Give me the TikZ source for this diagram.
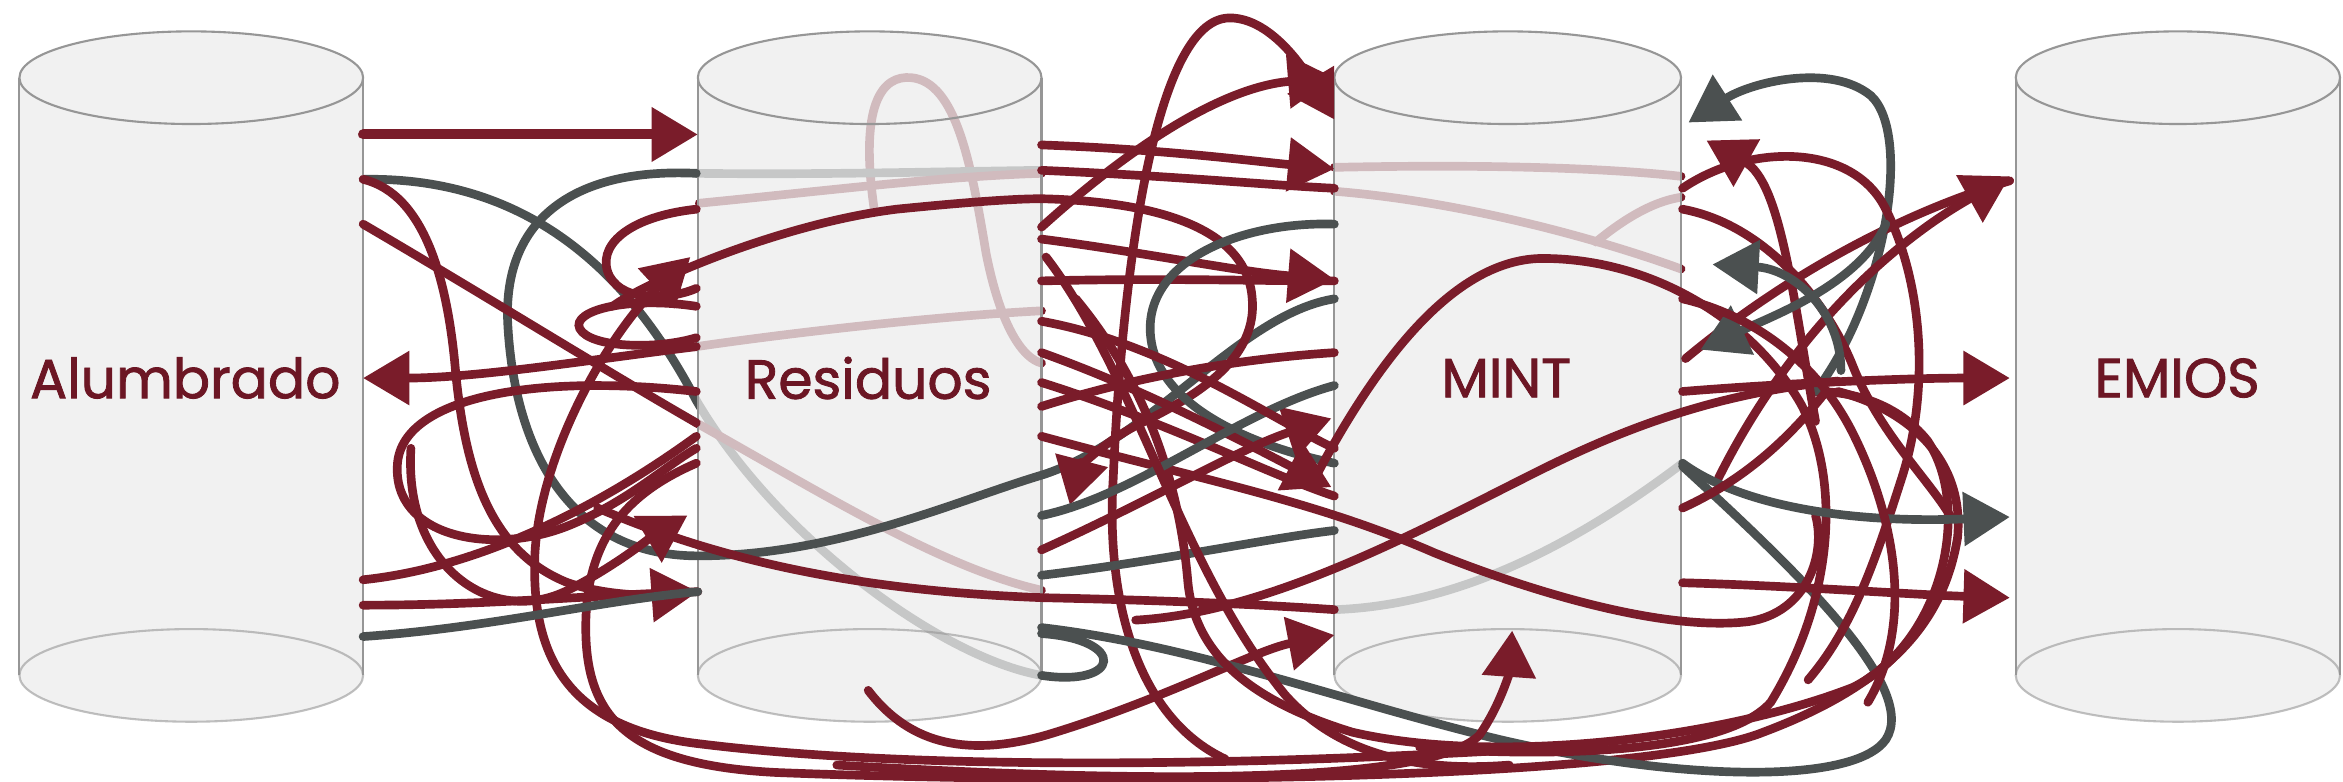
\documentclass[tikz,border=0pt]{standalone}
\usepackage{fontspec}
\usetikzlibrary{arrows.meta}
\newfontfamily\lblfont{Poppins}[FakeBold=1.5]
\definecolor{mar}{RGB}{122,28,42}
\definecolor{gry}{RGB}{75,80,80}
\definecolor{cylfillc}{RGB}{237,237,237}
\definecolor{cyledge}{RGB}{150,150,150}
\definecolor{lblc}{RGB}{108,22,36}
\pgfdeclarelayer{bg}
\pgfdeclarelayer{cyl}
\pgfdeclarelayer{fg}
\pgfsetlayers{bg,cyl,main,fg}
\newcommand{\cylshape}[2]{%
  \pgfmathsetmacro{\cx}{(#1+#2)/2}%
  \pgfmathsetmacro{\rx}{(#2-#1)/2}%
  \fill[cylfillc,fill opacity=0.76] (#1,52) -- (#1,452) arc[start angle=180,end angle=0,x radius=\rx,y radius=31] -- (#2,52) arc[start angle=0,end angle=-180,x radius=\rx,y radius=31] -- cycle;
  \draw[cylline] (#1,52) -- (#1,452);
  \draw[cylline] (#2,52) -- (#2,452);
  \draw[cylline] (\cx,52) ellipse[x radius=\rx,y radius=31];
  \draw[cylline,draw opacity=0.6] (\cx,452) ellipse[x radius=\rx,y radius=31];
}
\tikzset{
  mr/.style={draw=mar,line width=3.3pt,line cap=round},
  gr/.style={draw=gry,line width=3.3pt,line cap=round},
  arr/.style={-{Triangle[length=0.62cm,width=0.7cm]}},
  cylline/.style={draw=cyledge,line width=0.8pt},
  lbl/.style={text=lblc,font=\lblfont\fontsize{21}{25}\selectfont,inner sep=0pt}
}
\begin{document}
\begin{tikzpicture}[x=0.02cm,y=-0.02cm]
\useasboundingbox (0,0) rectangle (1568,523);
% labels
\begin{pgfonlayer}{fg}
\node[lbl] (alu) at (124,253) {Alumbrado};
\node[lbl] (res) at (581,253) {Residuos};
\node[lbl] (mint) at (1008,253) {MINT};
\node[lbl] (emi) at (1457,253) {EMIOS};
\end{pgfonlayer}
% back curves
\begin{pgfonlayer}{bg}
\fill[white] (0,0) rectangle (1568,523);
\draw[gr] (243,120) .. controls (360,118) and (425,190) .. (466,268) .. controls (520,360) and (630,440) .. (697,452);
\draw[mr] (585,140) .. controls (575,70) and (590,50) .. (610,52) .. controls (640,55) and (650,110) .. (660,170) .. controls (670,220) and (685,240) .. (697,243);
\draw[gr] (466,116) .. controls (550,117) and (620,115) .. (697,114);
\draw[mr] (468,136) .. controls (550,128) and (630,118) .. (697,116);
\draw[mr] (893,112) .. controls (990,110) and (1070,112) .. (1125,118);
\draw[mr] (893,128) .. controls (980,135) and (1070,160) .. (1125,180);
\draw[mr] (1068,162) .. controls (1085,148) and (1105,135) .. (1125,132);
\draw[gr] (1126,310) .. controls (1060,360) and (980,405) .. (893,408);
\draw[mr] (466,283) .. controls (550,330) and (630,380) .. (697,395);
\draw[mr] (697,208) .. controls (620,212) and (520,224) .. (466,232);
\end{pgfonlayer}
% cylinders
\begin{pgfonlayer}{cyl}
\cylshape{13}{243}
\cylshape{467}{697}
\cylshape{893}{1125}
\cylshape{1349}{1566}
\end{pgfonlayer}
% front curves: gap 1
\draw[mr,arr,line width=3.8pt] (243,90) -- (467,90);
\draw[gr] (466,116) .. controls (380,112) and (335,150) .. (340,220) .. controls (345,300) and (380,372) .. (467,372) .. controls (560,372) and (640,335) .. (697,318) .. controls (770,295) and (830,210) .. (893,200);
\draw[mr,arr] (243,120) .. controls (285,130) and (300,190) .. (305,250) .. controls (312,320) and (330,370) .. (380,390) .. controls (410,400) and (440,398) .. (467,396);
\draw[mr] (243,150) .. controls (320,195) and (400,245) .. (466,283);
\draw[mr,arr] (466,232) .. controls (400,240) and (320,253) .. (243,253);
\draw[mr,arr] (1010,502) .. controls (800,514) and (600,514) .. (470,498) .. controls (380,488) and (355,440) .. (358,370) .. controls (362,300) and (410,220) .. (462,172);
\draw[mr] (466,310) .. controls (420,330) and (392,360) .. (392,420) .. controls (392,480) and (420,512) .. (520,517) .. controls (750,526) and (1100,522) .. (1180,490) .. controls (1260,460) and (1300,420) .. (1310,360) .. controls (1315,310) and (1280,275) .. (1230,262);
\draw[mr] (466,262) .. controls (360,250) and (270,265) .. (266,310) .. controls (262,360) and (330,372) .. (380,352) .. controls (420,336) and (445,312) .. (466,300);
\draw[mr] (243,388) .. controls (320,380) and (400,340) .. (466,292);
\draw[mr] (243,405) .. controls (330,405) and (400,398) .. (467,396);
\draw[mr,arr] (275,300) .. controls (270,380) and (330,420) .. (380,395) .. controls (410,380) and (435,360) .. (460,345);
\draw[gr] (243,426) .. controls (330,420) and (400,402) .. (467,396);
\draw[mr] (466,205) .. controls (420,198) and (382,208) .. (388,220) .. controls (395,233) and (440,234) .. (466,226);
\draw[mr] (466,140) .. controls (420,145) and (398,165) .. (408,185) .. controls (418,203) and (450,200) .. (466,193);
% across residuos and gap 2
\draw[mr,arr] (410,205) .. controls (430,190) and (520,150) .. (600,140) .. controls (650,135) and (680,133) .. (697,133) .. controls (780,135) and (835,155) .. (838,200) .. controls (842,245) and (790,270) .. (760,285) .. controls (735,298) and (722,315) .. (716,338);
\draw[mr] (400,340) .. controls (470,370) and (560,395) .. (698,400) .. controls (790,402) and (850,405) .. (893,408);
\draw[mr,arr] (820,508) .. controls (760,480) and (740,400) .. (745,320) .. controls (750,200) and (770,12) .. (823,12) .. controls (852,12) and (875,50) .. (893,80);
\draw[mr,arr] (697,152) .. controls (760,95) and (820,58) .. (893,52);
\draw[mr,arr] (697,97) .. controls (780,100) and (840,108) .. (893,113);
\draw[mr] (697,114) .. controls (790,118) and (850,124) .. (893,126);
\draw[mr,arr] (697,160) .. controls (760,168) and (830,182) .. (893,187);
\draw[mr] (697,188) .. controls (780,186) and (840,188) .. (893,188);
\draw[gr] (893,150) .. controls (830,148) and (765,175) .. (770,225) .. controls (775,275) and (845,300) .. (893,310);
\draw[mr,arr] (697,368) .. controls (770,335) and (830,300) .. (891,280);
\draw[mr,arr] (697,236) .. controls (770,262) and (840,300) .. (891,326);
\draw[mr] (697,256) .. controls (780,282) and (850,318) .. (893,332);
\draw[mr,arr] (581,462) .. controls (610,500) and (650,506) .. (700,492) .. controls (780,468) and (840,435) .. (893,425);
\draw[gr] (697,452) .. controls (750,460) and (755,428) .. (697,424);
\draw[gr] (697,420) .. controls (800,432) and (900,470) .. (1004,495) .. controls (1120,522) and (1240,526) .. (1262,495) .. controls (1285,460) and (1200,380) .. (1126,312);
\draw[gr] (697,385) .. controls (780,375) and (850,360) .. (893,355);
\draw[mr] (720,200) .. controls (770,260) and (790,330) .. (795,390) .. controls (800,440) and (840,470) .. (905,490) .. controls (1000,512) and (1150,495) .. (1240,460) .. controls (1300,430) and (1320,340) .. (1290,295) .. controls (1270,270) and (1240,262) .. (1215,262);
\draw[mr] (697,292) .. controls (800,320) and (880,335) .. (960,370) .. controls (1040,402) and (1120,422) .. (1170,416) .. controls (1210,410) and (1222,370) .. (1215,345);
\draw[mr] (760,415) .. controls (850,410) and (950,355) .. (1030,315) .. controls (1100,280) and (1160,262) .. (1230,255);
\draw[mr] (880,320) .. controls (925,235) and (975,175) .. (1030,173) .. controls (1100,172) and (1170,210) .. (1205,270) .. controls (1232,320) and (1228,400) .. (1185,470) .. controls (1150,510) and (1000,505) .. (950,500);
\draw[mr,arr] (560,512) .. controls (800,526) and (960,522) .. (990,492) .. controls (1004,472) and (1010,450) .. (1012,422);
\draw[mr] (697,272) .. controls (760,252) and (830,240) .. (893,236);
\draw[gr] (697,345) .. controls (760,332) and (830,275) .. (893,258);
\draw[mr] (697,215) .. controls (780,230) and (850,280) .. (893,300);
\draw[mr] (700,172) .. controls (760,250) and (790,380) .. (860,465) .. controls (900,510) and (960,516) .. (1010,512);
% gap 3
\draw[gr,arr] (1215,262) .. controls (1262,200) and (1280,90) .. (1252,64) .. controls (1225,42) and (1172,55) .. (1130,82);
\draw[mr,arr] (1215,282) .. controls (1200,200) and (1192,122) .. (1142,94);
\draw[mr] (1126,126) .. controls (1170,96) and (1240,95) .. (1262,140) .. controls (1287,190) and (1292,262) .. (1272,322) .. controls (1255,375) and (1240,420) .. (1210,455);
\draw[mr,arr] (1150,320) .. controls (1200,220) and (1270,160) .. (1345,118);
\draw[mr] (1128,240) .. controls (1200,180) and (1280,140) .. (1345,121);
\draw[mr] (1126,140) .. controls (1180,150) and (1222,200) .. (1240,245) .. controls (1258,290) and (1290,320) .. (1305,345);
\draw[mr,arr] (1126,262) .. controls (1200,256) and (1280,253) .. (1345,253);
\draw[gr,arr] (1232,248) .. controls (1232,208) and (1200,180) .. (1146,177);
\draw[gr,arr] (1262,150) .. controls (1245,190) and (1185,212) .. (1138,234);
\draw[gr,arr] (1126,310) .. controls (1170,342) and (1250,350) .. (1345,346);
\draw[mr,arr] (1126,390) .. controls (1200,392) and (1280,398) .. (1345,400);
\draw[mr] (1126,340) .. controls (1170,320) and (1200,290) .. (1222,262);
\draw[mr] (1126,200) .. controls (1170,210) and (1215,240) .. (1240,290) .. controls (1270,350) and (1280,420) .. (1250,470);
\end{tikzpicture}
\end{document}
